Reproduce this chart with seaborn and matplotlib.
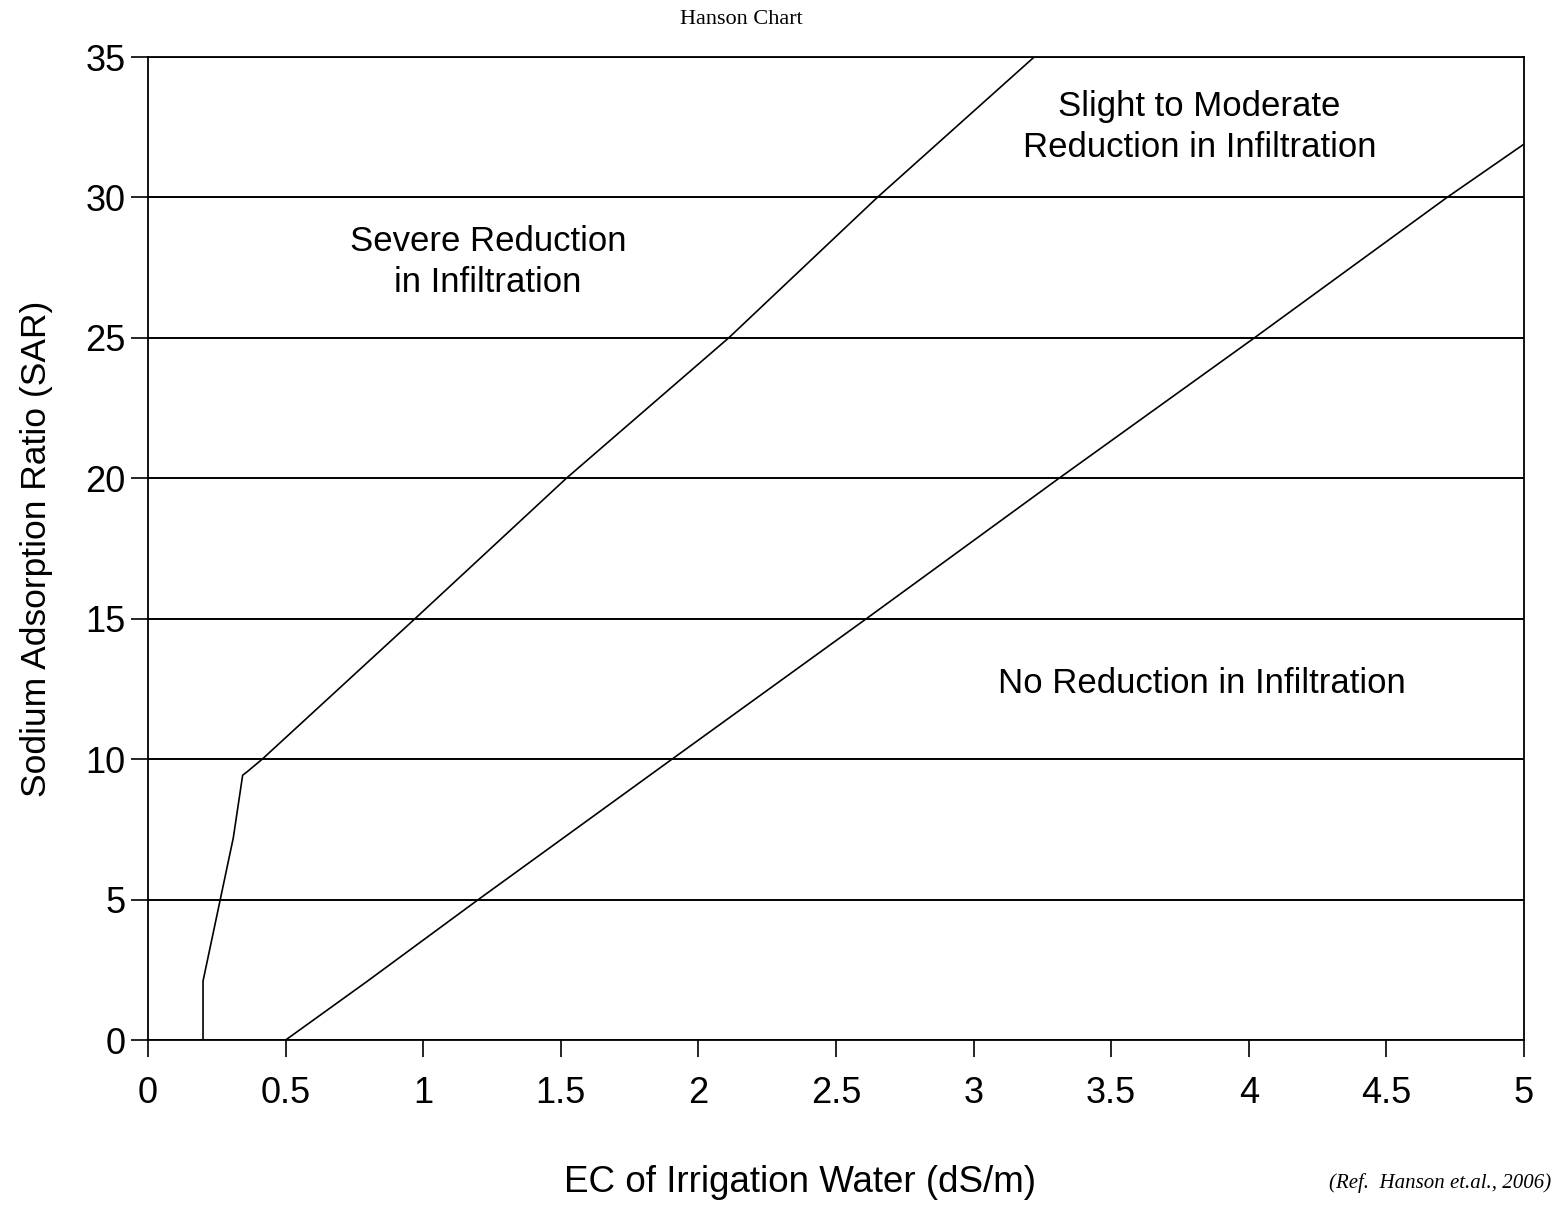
import matplotlib
matplotlib.use("Agg")
import matplotlib.pyplot as plt
import seaborn as sns
import pandas as pd

# boundary between severe and slight-to-moderate reduction
severe_ec = [0.2, 0.2, 0.31, 0.344, 0.36, 0.415, 0.97, 1.52, 2.11, 2.65, 3.22]
severe_sar = [0.0, 2.1, 7.2, 9.43, 9.55, 10.0, 15.0, 20.0, 25.0, 30.0, 35.0]

# boundary between slight-to-moderate and no reduction
none_ec = [0.5, 0.795, 1.2, 1.904, 2.61, 3.31, 4.02, 4.72, 5.0]
none_sar = [0.0, 2.08, 5.0, 10.0, 15.0, 20.0, 25.0, 30.0, 31.9]

x_ticks = [0, 0.5, 1, 1.5, 2, 2.5, 3, 3.5, 4, 4.5, 5]
x_tick_labels = ["0", "0.5", "1", "1.5", "2", "2.5", "3", "3.5", "4", "4.5", "5"]
y_ticks = [0, 5, 10, 15, 20, 25, 30, 35]

zone_labels = ["Slight to Moderate\nReduction in Infiltration",
               "Severe Reduction\nin Infiltration",
               "No Reduction in Infiltration"]
zone_x = [3.82, 1.235, 3.83]
zone_y = [32.5, 27.7, 12.7]

sns.set_style("white")
plt.rcParams['font.family'] = ['Liberation Sans', 'DejaVu Sans']
plt.rcParams.update({"text.color": "black", "axes.labelcolor": "black",
                     "xtick.color": "black", "ytick.color": "black"})

fig = plt.figure(figsize=(15.61, 12.06), dpi=100)
ax = fig.add_axes([0.0948, 0.1376, 0.8815, 0.8151])

df_a = pd.DataFrame({"ec": severe_ec, "sar": severe_sar})
df_b = pd.DataFrame({"ec": none_ec, "sar": none_sar})
sns.lineplot(data=df_a, x="ec", y="sar", sort=False, estimator=None, color="black", lw=1.2, ax=ax)
sns.lineplot(data=df_b, x="ec", y="sar", sort=False, estimator=None, color="black", lw=1.2, ax=ax)

ax.set_xlim(0, 5)
ax.set_ylim(0, 35)
ax.set_xticks(x_ticks)
ax.set_xticklabels(x_tick_labels)
ax.set_yticks(y_ticks)
ax.yaxis.grid(True, color="black", lw=1.4)
ax.xaxis.grid(False)
for s in ax.spines.values():
    s.set_color("black")
    s.set_linewidth(1.3)
ax.tick_params(axis="both", direction="out", length=12, width=1.2,
               labelsize=26, left=True, bottom=True)
ax.tick_params(axis="x", pad=14)
ax.tick_params(axis="y", pad=4)

ax.set_xlabel("EC of Irrigation Water (dS/m)", fontsize=26.5)
ax.set_ylabel("Sodium Adsorption Ratio (SAR)", fontsize=25.5)
ax.xaxis.set_label_coords(0.474, -0.127)
ax.yaxis.set_label_coords(-0.069, 0.5)

for lbl, tx, ty in zip(zone_labels, zone_x, zone_y):
    ax.text(tx, ty, lbl, ha="center", va="center", fontsize=25, linespacing=1.3)

fig.text(0.475, 0.984, "Hanson Chart", ha="center", va="center",
         family="Liberation Serif", fontsize=16)
fig.text(0.994, 0.019, "(Ref.  Hanson et.al., 2006)", ha="right", va="center",
         family="Liberation Serif", style="italic", fontsize=15)

fig.savefig("out.png", dpi=100)
